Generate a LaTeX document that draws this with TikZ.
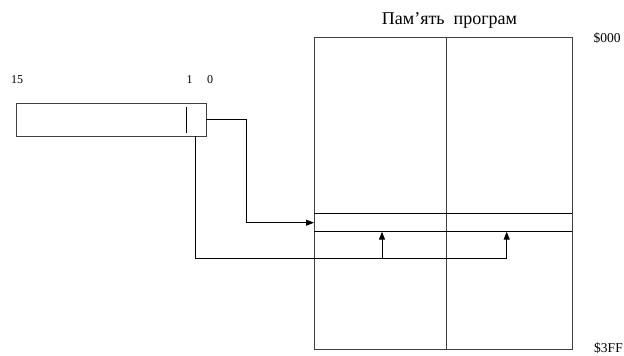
\documentclass[tikz,border=0pt]{standalone}
\usepackage{fontspec}
\setmainfont{Liberation Serif}
\usetikzlibrary{arrows.meta}
\begin{document}
\begin{tikzpicture}[x=1pt,y=-1pt,
  ln/.style={draw=black!75,line width=0.9pt},
  cn/.style={draw=black,line width=1pt},
  arr/.style={cn,-{Triangle[length=8pt,width=6pt]}},
  lbl/.style={inner sep=0pt,font=\fontsize{13.5}{15}\selectfont},
  bit/.style={inner sep=0pt,font=\fontsize{12}{14}\selectfont},
  ttl/.style={inner sep=0pt,font=\fontsize{18}{20}\selectfont}]
\useasboundingbox (0,0) rectangle (624,356);
% memory
\draw[ln] (314,37) rectangle (572,349);
\draw[ln] (446,37) -- (446,349);
\draw[cn] (314,213) coordinate (r1l) -- (572,213);
\draw[cn] (314,231.7) coordinate (r2l) -- (572,231.7);
\node[ttl] (title) at (449.5,20) {Пам’ять\ \ програм};
\node[lbl] (a0) at (607,38) {\$000};
\node[lbl] (a1) at (608.5,348) {\$3FF};
% register
\draw[ln] (16,103) rectangle (206,136);
\draw[cn] (186,107) -- (186,133);
\node[bit] (b15) at (17,80) {15};
\node[bit] (b1) at (189.5,80) {1};
\node[bit] (b0) at (210,80) {0};
% connectors
\coordinate (p0) at (206,119.3);
\coordinate (p1) at (246.7,119.3);
\coordinate (p2) at (246.7,222.7);
\coordinate (p3) at (314,222.7);
\draw[arr] (p0) -- (p1) -- (p2) -- (p3);
\coordinate (q0) at (195.7,136);
\coordinate (q1) at (195.7,258.3);
\coordinate (q2) at (506.7,258.3);
\coordinate (u1) at (382,258.3);
\coordinate (u1t) at (382,231.7);
\coordinate (u2t) at (506.7,231.7);
\draw[cn] (q0) -- (q1) -- (q2);
\draw[arr] (u1) -- (u1t);
\draw[arr] (q2) -- (u2t);
\end{tikzpicture}
\end{document}
